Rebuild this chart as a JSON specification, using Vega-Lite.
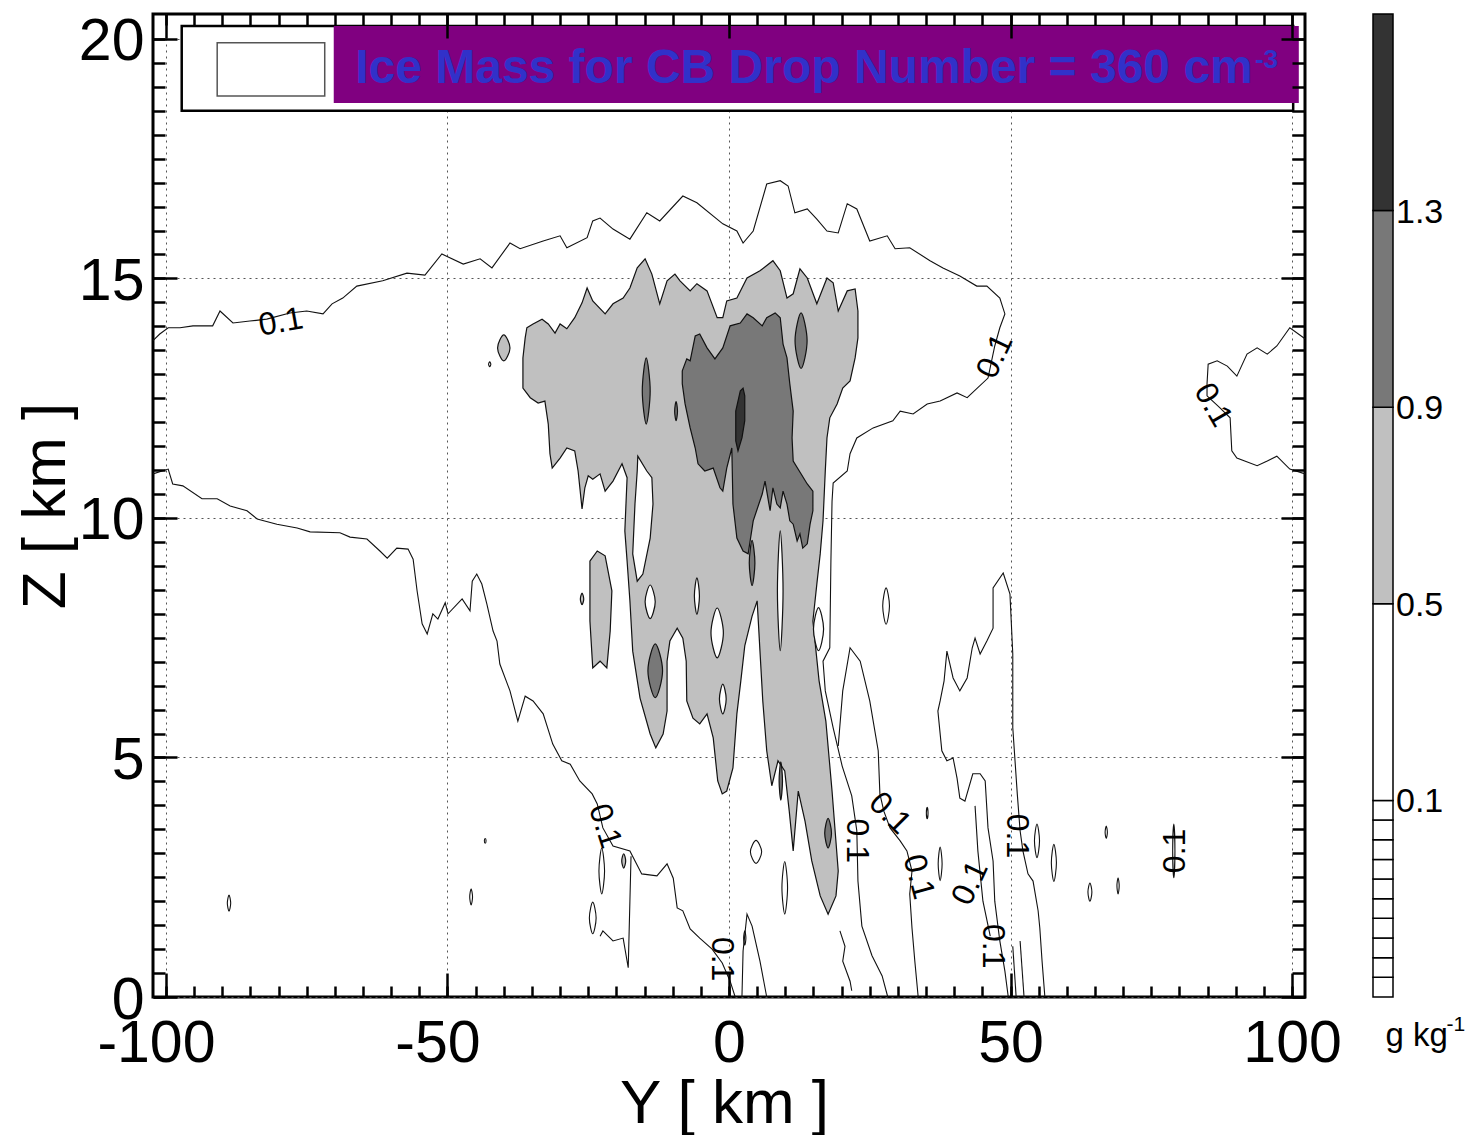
{
"$schema": "https://vega.github.io/schema/vega-lite/v6.json",
"background": "white",
"padding": {"left": 12, "top": 11, "right": 5, "bottom": 3},
"config": {"view": {"stroke": null}, "font": "Liberation Sans"},
"datasets": {
"poly": [
{"id":"LG","c":"a","i":1,"x":-35.9,"y":13.97},{"id":"LG","c":"a","i":2,"x":-34.8,"y":14.05},{"id":"LG","c":"a","i":3,"x":-33.2,"y":14.15},{"id":"LG","c":"a","i":4,"x":-32.1,"y":14.05},{"id":"LG","c":"a","i":5,"x":-30.9,"y":13.86},{"id":"LG","c":"a","i":6,"x":-30.0,"y":14.05},{"id":"LG","c":"a","i":7,"x":-28.8,"y":13.95},{"id":"LG","c":"a","i":8,"x":-27.4,"y":14.18},{"id":"LG","c":"a","i":9,"x":-26.1,"y":14.49},{"id":"LG","c":"a","i":10,"x":-25.2,"y":14.80},
{"id":"LG","c":"a","i":11,"x":-24.2,"y":14.53},{"id":"LG","c":"a","i":12,"x":-22.0,"y":14.26},{"id":"LG","c":"a","i":13,"x":-20.6,"y":14.47},{"id":"LG","c":"a","i":14,"x":-18.8,"y":14.59},{"id":"LG","c":"a","i":15,"x":-17.6,"y":14.80},{"id":"LG","c":"a","i":16,"x":-16.3,"y":15.22},{"id":"LG","c":"a","i":17,"x":-14.9,"y":15.41},{"id":"LG","c":"a","i":18,"x":-13.7,"y":15.09},{"id":"LG","c":"a","i":19,"x":-12.3,"y":14.47},{"id":"LG","c":"a","i":20,"x":-11.0,"y":14.95},
{"id":"LG","c":"a","i":21,"x":-9.6,"y":15.09},{"id":"LG","c":"a","i":22,"x":-8.7,"y":14.95},{"id":"LG","c":"a","i":23,"x":-6.9,"y":14.74},{"id":"LG","c":"a","i":24,"x":-5.7,"y":14.89},{"id":"LG","c":"a","i":25,"x":-3.9,"y":14.74},{"id":"LG","c":"a","i":26,"x":-2.1,"y":14.18},{"id":"LG","c":"a","i":27,"x":-1.1,"y":14.18},{"id":"LG","c":"a","i":28,"x":-0.4,"y":14.53},{"id":"LG","c":"a","i":29,"x":1.4,"y":14.59},{"id":"LG","c":"a","i":30,"x":3.2,"y":15.01},
{"id":"LG","c":"a","i":31,"x":5.5,"y":15.16},{"id":"LG","c":"a","i":32,"x":7.8,"y":15.37},{"id":"LG","c":"a","i":33,"x":9.1,"y":15.16},{"id":"LG","c":"a","i":34,"x":10.3,"y":14.59},{"id":"LG","c":"a","i":35,"x":11.4,"y":14.68},{"id":"LG","c":"a","i":36,"x":12.6,"y":15.20},{"id":"LG","c":"a","i":37,"x":13.9,"y":15.01},{"id":"LG","c":"a","i":38,"x":15.6,"y":14.47},{"id":"LG","c":"a","i":39,"x":17.4,"y":15.01},{"id":"LG","c":"a","i":40,"x":18.5,"y":14.91},
{"id":"LG","c":"a","i":41,"x":19.4,"y":14.32},{"id":"LG","c":"a","i":42,"x":21.0,"y":14.74},{"id":"LG","c":"a","i":43,"x":22.4,"y":14.78},{"id":"LG","c":"a","i":44,"x":22.9,"y":14.32},{"id":"LG","c":"a","i":45,"x":22.9,"y":13.76},{"id":"LG","c":"a","i":46,"x":22.4,"y":13.34},{"id":"LG","c":"a","i":47,"x":21.5,"y":12.86},{"id":"LG","c":"a","i":48,"x":20.2,"y":12.71},{"id":"LG","c":"a","i":49,"x":19.2,"y":12.38},{"id":"LG","c":"a","i":50,"x":17.9,"y":12.09},
{"id":"LG","c":"a","i":51,"x":17.4,"y":11.67},{"id":"LG","c":"a","i":52,"x":17.1,"y":10.98},{"id":"LG","c":"a","i":53,"x":16.7,"y":9.94},{"id":"LG","c":"a","i":54,"x":16.2,"y":9.25},{"id":"LG","c":"a","i":55,"x":15.6,"y":8.62},{"id":"LG","c":"a","i":56,"x":14.9,"y":7.85},{"id":"LG","c":"a","i":57,"x":16.0,"y":6.60},{"id":"LG","c":"a","i":58,"x":17.2,"y":5.76},{"id":"LG","c":"a","i":59,"x":18.3,"y":4.30},{"id":"LG","c":"a","i":60,"x":19.4,"y":2.63},
{"id":"LG","c":"a","i":61,"x":19.0,"y":2.11},{"id":"LG","c":"a","i":62,"x":17.6,"y":1.73},{"id":"LG","c":"a","i":63,"x":16.2,"y":2.11},{"id":"LG","c":"a","i":64,"x":14.7,"y":2.84},{"id":"LG","c":"a","i":65,"x":13.5,"y":3.67},{"id":"LG","c":"a","i":66,"x":12.3,"y":4.30},{"id":"LG","c":"a","i":67,"x":11.4,"y":3.05},{"id":"LG","c":"a","i":68,"x":10.7,"y":3.88},{"id":"LG","c":"a","i":69,"x":9.9,"y":4.72},{"id":"LG","c":"a","i":70,"x":8.7,"y":4.93},
{"id":"LG","c":"a","i":71,"x":7.6,"y":4.41},{"id":"LG","c":"a","i":72,"x":6.7,"y":5.14},{"id":"LG","c":"a","i":73,"x":6.0,"y":6.18},{"id":"LG","c":"a","i":74,"x":5.5,"y":7.22},{"id":"LG","c":"a","i":75,"x":5.0,"y":8.27},{"id":"LG","c":"a","i":76,"x":4.1,"y":7.95},{"id":"LG","c":"a","i":77,"x":2.8,"y":7.33},{"id":"LG","c":"a","i":78,"x":2.1,"y":6.60},{"id":"LG","c":"a","i":79,"x":1.4,"y":5.91},{"id":"LG","c":"a","i":80,"x":0.7,"y":4.78},
{"id":"LG","c":"a","i":81,"x":-0.4,"y":4.30},{"id":"LG","c":"a","i":82,"x":-1.2,"y":4.24},{"id":"LG","c":"a","i":83,"x":-2.0,"y":4.51},{"id":"LG","c":"a","i":84,"x":-2.8,"y":5.41},{"id":"LG","c":"a","i":85,"x":-3.9,"y":5.91},{"id":"LG","c":"a","i":86,"x":-5.2,"y":5.70},{"id":"LG","c":"a","i":87,"x":-6.4,"y":5.82},{"id":"LG","c":"a","i":88,"x":-7.5,"y":6.18},{"id":"LG","c":"a","i":89,"x":-7.6,"y":7.01},{"id":"LG","c":"a","i":90,"x":-8.2,"y":7.49},
{"id":"LG","c":"a","i":91,"x":-9.2,"y":7.70},{"id":"LG","c":"a","i":92,"x":-10.5,"y":7.43},{"id":"LG","c":"a","i":93,"x":-11.0,"y":7.01},{"id":"LG","c":"a","i":94,"x":-11.0,"y":5.97},{"id":"LG","c":"a","i":95,"x":-11.7,"y":5.49},{"id":"LG","c":"a","i":96,"x":-13.0,"y":5.20},{"id":"LG","c":"a","i":97,"x":-14.0,"y":5.49},{"id":"LG","c":"a","i":98,"x":-15.8,"y":6.24},{"id":"LG","c":"a","i":99,"x":-17.1,"y":7.22},{"id":"LG","c":"a","i":100,"x":-17.6,"y":8.27},
{"id":"LG","c":"a","i":101,"x":-18.1,"y":9.10},{"id":"LG","c":"a","i":102,"x":-18.5,"y":9.73},{"id":"LG","c":"a","i":103,"x":-18.1,"y":10.84},{"id":"LG","c":"a","i":104,"x":-19.0,"y":11.13},{"id":"LG","c":"a","i":105,"x":-20.6,"y":10.77},{"id":"LG","c":"a","i":106,"x":-22.0,"y":10.56},{"id":"LG","c":"a","i":107,"x":-22.9,"y":10.92},{"id":"LG","c":"a","i":108,"x":-24.2,"y":10.81},{"id":"LG","c":"a","i":109,"x":-25.0,"y":10.88},{"id":"LG","c":"a","i":110,"x":-25.6,"y":10.63},
{"id":"LG","c":"a","i":111,"x":-26.1,"y":10.19},{"id":"LG","c":"a","i":112,"x":-26.8,"y":10.98},{"id":"LG","c":"a","i":113,"x":-27.4,"y":11.40},{"id":"LG","c":"a","i":114,"x":-28.8,"y":11.46},{"id":"LG","c":"a","i":115,"x":-30.0,"y":11.25},{"id":"LG","c":"a","i":116,"x":-31.4,"y":11.04},{"id":"LG","c":"a","i":117,"x":-31.8,"y":11.34},{"id":"LG","c":"a","i":118,"x":-32.1,"y":11.96},{"id":"LG","c":"a","i":119,"x":-32.7,"y":12.44},{"id":"LG","c":"a","i":120,"x":-33.9,"y":12.40},
{"id":"LG","c":"a","i":121,"x":-35.3,"y":12.51},{"id":"LG","c":"a","i":122,"x":-36.6,"y":12.71},{"id":"LG","c":"a","i":123,"x":-36.6,"y":13.34},{"id":"LG","c":"a","i":124,"x":-36.2,"y":13.76},
{"id":"LL2","c":"a","i":1,"x":-24.7,"y":9.10},{"id":"LL2","c":"a","i":2,"x":-23.4,"y":9.31},{"id":"LL2","c":"a","i":3,"x":-22.0,"y":9.21},{"id":"LL2","c":"a","i":4,"x":-20.8,"y":8.48},{"id":"LL2","c":"a","i":5,"x":-21.1,"y":7.64},{"id":"LL2","c":"a","i":6,"x":-21.7,"y":6.87},{"id":"LL2","c":"a","i":7,"x":-22.9,"y":7.01},{"id":"LL2","c":"a","i":8,"x":-24.2,"y":6.87},{"id":"LL2","c":"a","i":9,"x":-24.7,"y":7.85},
{"id":"H1","c":"w","i":1,"x":-16.2,"y":11.29},{"id":"H1","c":"w","i":2,"x":-14.6,"y":10.98},{"id":"H1","c":"w","i":3,"x":-13.7,"y":10.84},{"id":"H1","c":"w","i":4,"x":-13.5,"y":10.29},{"id":"H1","c":"w","i":5,"x":-14.0,"y":9.58},{"id":"H1","c":"w","i":6,"x":-15.3,"y":8.83},{"id":"H1","c":"w","i":7,"x":-16.3,"y":8.68},{"id":"H1","c":"w","i":8,"x":-17.1,"y":9.25},{"id":"H1","c":"w","i":9,"x":-16.7,"y":10.29},{"id":"H1","c":"w","i":10,"x":-16.3,"y":10.98},
{"id":"MG","c":"b","i":1,"x":-8.3,"y":13.07},{"id":"MG","c":"b","i":2,"x":-7.5,"y":13.32},{"id":"MG","c":"b","i":3,"x":-6.9,"y":13.28},{"id":"MG","c":"b","i":4,"x":-6.0,"y":13.80},{"id":"MG","c":"b","i":5,"x":-5.2,"y":13.84},{"id":"MG","c":"b","i":6,"x":-3.9,"y":13.55},{"id":"MG","c":"b","i":7,"x":-2.5,"y":13.32},{"id":"MG","c":"b","i":8,"x":-1.1,"y":13.55},{"id":"MG","c":"b","i":9,"x":0.2,"y":14.01},{"id":"MG","c":"b","i":10,"x":2.0,"y":14.07},
{"id":"MG","c":"b","i":11,"x":3.2,"y":14.26},{"id":"MG","c":"b","i":12,"x":4.3,"y":14.18},{"id":"MG","c":"b","i":13,"x":5.9,"y":14.01},{"id":"MG","c":"b","i":14,"x":6.7,"y":14.18},{"id":"MG","c":"b","i":15,"x":8.2,"y":14.28},{"id":"MG","c":"b","i":16,"x":9.1,"y":14.18},{"id":"MG","c":"b","i":17,"x":9.6,"y":13.63},{"id":"MG","c":"b","i":18,"x":10.3,"y":13.34},{"id":"MG","c":"b","i":19,"x":10.8,"y":12.80},{"id":"MG","c":"b","i":20,"x":11.4,"y":12.23},
{"id":"MG","c":"b","i":21,"x":11.2,"y":11.67},{"id":"MG","c":"b","i":22,"x":11.4,"y":11.19},{"id":"MG","c":"b","i":23,"x":13.9,"y":10.71},{"id":"MG","c":"b","i":24,"x":14.9,"y":10.56},{"id":"MG","c":"b","i":25,"x":14.9,"y":10.15},{"id":"MG","c":"b","i":26,"x":14.4,"y":9.87},{"id":"MG","c":"b","i":27,"x":13.9,"y":9.46},{"id":"MG","c":"b","i":28,"x":13.1,"y":9.37},{"id":"MG","c":"b","i":29,"x":12.6,"y":9.67},{"id":"MG","c":"b","i":30,"x":12.1,"y":9.52},
{"id":"MG","c":"b","i":31,"x":11.4,"y":9.87},{"id":"MG","c":"b","i":32,"x":10.8,"y":9.94},{"id":"MG","c":"b","i":33,"x":10.3,"y":10.29},{"id":"MG","c":"b","i":34,"x":9.6,"y":10.56},{"id":"MG","c":"b","i":35,"x":9.1,"y":10.21},{"id":"MG","c":"b","i":36,"x":8.5,"y":10.29},{"id":"MG","c":"b","i":37,"x":7.8,"y":10.63},{"id":"MG","c":"b","i":38,"x":7.3,"y":10.15},{"id":"MG","c":"b","i":39,"x":6.4,"y":10.77},{"id":"MG","c":"b","i":40,"x":5.9,"y":10.50},
{"id":"MG","c":"b","i":41,"x":4.3,"y":9.94},{"id":"MG","c":"b","i":42,"x":3.4,"y":9.25},{"id":"MG","c":"b","i":43,"x":2.5,"y":9.31},{"id":"MG","c":"b","i":44,"x":1.4,"y":9.58},{"id":"MG","c":"b","i":45,"x":0.7,"y":10.29},{"id":"MG","c":"b","i":46,"x":0.5,"y":11.46},{"id":"MG","c":"b","i":47,"x":-0.4,"y":11.04},{"id":"MG","c":"b","i":48,"x":-1.1,"y":10.56},{"id":"MG","c":"b","i":49,"x":-1.6,"y":10.63},{"id":"MG","c":"b","i":50,"x":-2.8,"y":11.04},
{"id":"MG","c":"b","i":51,"x":-4.3,"y":10.98},{"id":"MG","c":"b","i":52,"x":-5.5,"y":11.13},{"id":"MG","c":"b","i":53,"x":-6.0,"y":11.46},{"id":"MG","c":"b","i":54,"x":-6.9,"y":11.88},{"id":"MG","c":"b","i":55,"x":-7.8,"y":12.38},{"id":"MG","c":"b","i":56,"x":-8.3,"y":12.80},
{"id":"DK","c":"d","i":1,"x":2.0,"y":12.65},{"id":"DK","c":"d","i":2,"x":2.5,"y":12.71},{"id":"DK","c":"d","i":3,"x":2.8,"y":12.55},{"id":"DK","c":"d","i":4,"x":2.8,"y":12.03},{"id":"DK","c":"d","i":5,"x":2.3,"y":11.67},{"id":"DK","c":"d","i":6,"x":1.6,"y":11.40},{"id":"DK","c":"d","i":7,"x":1.2,"y":11.61},{"id":"DK","c":"d","i":8,"x":1.2,"y":12.23}
],
"ov": [
{"id":"OA1","c":"a","i":1,"x":-41.1,"y":13.55},{"id":"OA1","c":"a","i":2,"x":-40.0,"y":13.82},{"id":"OA1","c":"a","i":3,"x":-38.9,"y":13.55},{"id":"OA1","c":"a","i":4,"x":-40.0,"y":13.28},
{"id":"OA2","c":"a","i":1,"x":-26.4,"y":8.31},{"id":"OA2","c":"a","i":2,"x":-26.1,"y":8.43},{"id":"OA2","c":"a","i":3,"x":-25.8,"y":8.31},{"id":"OA2","c":"a","i":4,"x":-26.1,"y":8.19},
{"id":"OA3","c":"a","i":1,"x":-19.05,"y":2.84},{"id":"OA3","c":"a","i":2,"x":-18.7,"y":2.99},{"id":"OA3","c":"a","i":3,"x":-18.35,"y":2.84},{"id":"OA3","c":"a","i":4,"x":-18.7,"y":2.69},
{"id":"H2","c":"w","i":1,"x":8.0,"y":12.65},{"id":"H2","c":"w","i":2,"x":8.9,"y":13.13},{"id":"H2","c":"w","i":3,"x":9.8,"y":12.65},{"id":"H2","c":"w","i":4,"x":8.9,"y":12.17},
{"id":"H3","c":"w","i":1,"x":8.6,"y":8.48},{"id":"H3","c":"w","i":2,"x":9.1,"y":9.73},{"id":"H3","c":"w","i":3,"x":9.6,"y":8.48},{"id":"H3","c":"w","i":4,"x":9.1,"y":7.23},
{"id":"H4","c":"w","i":1,"x":-6.15,"y":8.37},{"id":"H4","c":"w","i":2,"x":-5.7,"y":8.75},{"id":"H4","c":"w","i":3,"x":-5.25,"y":8.37},{"id":"H4","c":"w","i":4,"x":-5.7,"y":7.99},
{"id":"H5","c":"w","i":1,"x":-14.9,"y":8.25},{"id":"H5","c":"w","i":2,"x":-14.0,"y":8.60},{"id":"H5","c":"w","i":3,"x":-13.1,"y":8.25},{"id":"H5","c":"w","i":4,"x":-14.0,"y":7.90},
{"id":"H6","c":"w","i":1,"x":-3.2,"y":7.60},{"id":"H6","c":"w","i":2,"x":-2.1,"y":8.12},{"id":"H6","c":"w","i":3,"x":-1.0,"y":7.60},{"id":"H6","c":"w","i":4,"x":-2.1,"y":7.08},
{"id":"H6b","c":"w","i":1,"x":-1.7,"y":6.22},{"id":"H6b","c":"w","i":2,"x":-1.1,"y":6.53},{"id":"H6b","c":"w","i":3,"x":-0.5,"y":6.22},{"id":"H6b","c":"w","i":4,"x":-1.1,"y":5.91},
{"id":"H7","c":"w","i":1,"x":15.0,"y":7.68},{"id":"H7","c":"w","i":2,"x":15.9,"y":8.13},{"id":"H7","c":"w","i":3,"x":16.8,"y":7.68},{"id":"H7","c":"w","i":4,"x":15.9,"y":7.23},
{"id":"M1","c":"b","i":1,"x":11.73,"y":13.70},{"id":"M1","c":"b","i":2,"x":12.8,"y":14.28},{"id":"M1","c":"b","i":3,"x":13.87,"y":13.70},{"id":"M1","c":"b","i":4,"x":12.8,"y":13.12},
{"id":"M2","c":"b","i":1,"x":-15.4,"y":12.65},{"id":"M2","c":"b","i":2,"x":-14.7,"y":13.34},{"id":"M2","c":"b","i":3,"x":-14.0,"y":12.65},{"id":"M2","c":"b","i":4,"x":-14.7,"y":11.96},
{"id":"M3","c":"b","i":1,"x":-9.65,"y":12.23},{"id":"M3","c":"b","i":2,"x":-9.4,"y":12.43},{"id":"M3","c":"b","i":3,"x":-9.15,"y":12.23},{"id":"M3","c":"b","i":4,"x":-9.4,"y":12.03},
{"id":"M4","c":"b","i":1,"x":3.6,"y":9.06},{"id":"M4","c":"b","i":2,"x":4.1,"y":9.53},{"id":"M4","c":"b","i":3,"x":4.6,"y":9.06},{"id":"M4","c":"b","i":4,"x":4.1,"y":8.59},
{"id":"M5","c":"b","i":1,"x":-14.4,"y":6.81},{"id":"M5","c":"b","i":2,"x":-13.1,"y":7.37},{"id":"M5","c":"b","i":3,"x":-11.8,"y":6.81},{"id":"M5","c":"b","i":4,"x":-13.1,"y":6.25},
{"id":"M6","c":"b","i":1,"x":17.0,"y":3.42},{"id":"M6","c":"b","i":2,"x":17.6,"y":3.73},{"id":"M6","c":"b","i":3,"x":18.2,"y":3.42},{"id":"M6","c":"b","i":4,"x":17.6,"y":3.11},
{"id":"M7","c":"b","i":1,"x":8.9,"y":4.51},{"id":"M7","c":"b","i":2,"x":9.2,"y":4.91},{"id":"M7","c":"b","i":3,"x":9.5,"y":4.51},{"id":"M7","c":"b","i":4,"x":9.2,"y":4.11},
{"id":"N1","c":"n","i":1,"x":-23.1,"y":2.63},{"id":"N1","c":"n","i":2,"x":-22.6,"y":3.11},{"id":"N1","c":"n","i":3,"x":-22.1,"y":2.63},{"id":"N1","c":"n","i":4,"x":-22.6,"y":2.15},
{"id":"N2","c":"n","i":1,"x":-24.8,"y":1.65},{"id":"N2","c":"n","i":2,"x":-24.2,"y":1.98},{"id":"N2","c":"n","i":3,"x":-23.6,"y":1.65},{"id":"N2","c":"n","i":4,"x":-24.2,"y":1.32},
{"id":"N3","c":"n","i":1,"x":2.6,"y":1.23},{"id":"N3","c":"n","i":2,"x":2.8,"y":1.38},{"id":"N3","c":"n","i":3,"x":3.0,"y":1.23},{"id":"N3","c":"n","i":4,"x":2.8,"y":1.08},
{"id":"N4","c":"n","i":1,"x":3.8,"y":3.03},{"id":"N4","c":"n","i":2,"x":4.8,"y":3.27},{"id":"N4","c":"n","i":3,"x":5.8,"y":3.03},{"id":"N4","c":"n","i":4,"x":4.8,"y":2.79},
{"id":"N5","c":"n","i":1,"x":9.4,"y":2.28},{"id":"N5","c":"n","i":2,"x":9.9,"y":2.83},{"id":"N5","c":"n","i":3,"x":10.4,"y":2.28},{"id":"N5","c":"n","i":4,"x":9.9,"y":1.73},
{"id":"N6","c":"n","i":1,"x":27.3,"y":8.16},{"id":"N6","c":"n","i":2,"x":27.9,"y":8.54},{"id":"N6","c":"n","i":3,"x":28.5,"y":8.16},{"id":"N6","c":"n","i":4,"x":27.9,"y":7.78},
{"id":"N7","c":"n","i":1,"x":37.15,"y":2.78},{"id":"N7","c":"n","i":2,"x":37.5,"y":3.13},{"id":"N7","c":"n","i":3,"x":37.85,"y":2.78},{"id":"N7","c":"n","i":4,"x":37.5,"y":2.43},
{"id":"N8","c":"n","i":1,"x":35.05,"y":3.84},{"id":"N8","c":"n","i":2,"x":35.2,"y":3.96},{"id":"N8","c":"n","i":3,"x":35.35,"y":3.84},{"id":"N8","c":"n","i":4,"x":35.2,"y":3.72},
{"id":"N9","c":"n","i":1,"x":54.25,"y":3.26},{"id":"N9","c":"n","i":2,"x":54.7,"y":3.61},{"id":"N9","c":"n","i":3,"x":55.15,"y":3.26},{"id":"N9","c":"n","i":4,"x":54.7,"y":2.91},
{"id":"N10","c":"n","i":1,"x":57.25,"y":2.80},{"id":"N10","c":"n","i":2,"x":57.7,"y":3.19},{"id":"N10","c":"n","i":3,"x":58.15,"y":2.80},{"id":"N10","c":"n","i":4,"x":57.7,"y":2.41},
{"id":"N11","c":"n","i":1,"x":63.75,"y":2.19},{"id":"N11","c":"n","i":2,"x":64.1,"y":2.38},{"id":"N11","c":"n","i":3,"x":64.45,"y":2.19},{"id":"N11","c":"n","i":4,"x":64.1,"y":2.00},
{"id":"N12","c":"n","i":1,"x":66.8,"y":3.44},{"id":"N12","c":"n","i":2,"x":67.0,"y":3.57},{"id":"N12","c":"n","i":3,"x":67.2,"y":3.44},{"id":"N12","c":"n","i":4,"x":67.0,"y":3.31},
{"id":"N13","c":"n","i":1,"x":68.9,"y":2.32},{"id":"N13","c":"n","i":2,"x":69.1,"y":2.49},{"id":"N13","c":"n","i":3,"x":69.3,"y":2.32},{"id":"N13","c":"n","i":4,"x":69.1,"y":2.15},
{"id":"N14","c":"n","i":1,"x":78.8,"y":3.05},{"id":"N14","c":"n","i":2,"x":79.0,"y":3.61},{"id":"N14","c":"n","i":3,"x":79.2,"y":3.05},{"id":"N14","c":"n","i":4,"x":79.0,"y":2.49},
{"id":"N15","c":"n","i":1,"x":-89.1,"y":1.96},{"id":"N15","c":"n","i":2,"x":-88.8,"y":2.13},{"id":"N15","c":"n","i":3,"x":-88.5,"y":1.96},{"id":"N15","c":"n","i":4,"x":-88.8,"y":1.79},
{"id":"N16","c":"n","i":1,"x":-46.05,"y":2.09},{"id":"N16","c":"n","i":2,"x":-45.8,"y":2.26},{"id":"N16","c":"n","i":3,"x":-45.55,"y":2.09},{"id":"N16","c":"n","i":4,"x":-45.8,"y":1.92},
{"id":"N17","c":"n","i":1,"x":-43.45,"y":3.26},{"id":"N17","c":"n","i":2,"x":-43.3,"y":3.31},{"id":"N17","c":"n","i":3,"x":-43.15,"y":3.26},{"id":"N17","c":"n","i":4,"x":-43.3,"y":3.21},
{"id":"N18","c":"n","i":1,"x":-42.7,"y":13.21},{"id":"N18","c":"n","i":2,"x":-42.5,"y":13.26},{"id":"N18","c":"n","i":3,"x":-42.3,"y":13.21},{"id":"N18","c":"n","i":4,"x":-42.5,"y":13.16}
],
"ln": [
{"id":"U","i":1,"x":-102.3,"y":13.70},{"id":"U","i":2,"x":-101.1,"y":13.84},{"id":"U","i":3,"x":-99.6,"y":13.97},{"id":"U","i":4,"x":-97.5,"y":13.97},{"id":"U","i":5,"x":-95.2,"y":14.01},{"id":"U","i":6,"x":-91.7,"y":14.01},{"id":"U","i":7,"x":-90.4,"y":14.32},{"id":"U","i":8,"x":-88.1,"y":14.07},{"id":"U","i":9,"x":-85.1,"y":14.11},{"id":"U","i":10,"x":-82.1,"y":14.15},
{"id":"U","i":11,"x":-78.0,"y":14.28},{"id":"U","i":12,"x":-75.0,"y":14.32},{"id":"U","i":13,"x":-72.1,"y":14.26},{"id":"U","i":14,"x":-70.5,"y":14.47},{"id":"U","i":15,"x":-68.6,"y":14.59},{"id":"U","i":16,"x":-66.1,"y":14.84},{"id":"U","i":17,"x":-61.5,"y":14.95},{"id":"U","i":18,"x":-57.2,"y":15.11},{"id":"U","i":19,"x":-54.0,"y":15.07},{"id":"U","i":20,"x":-51.0,"y":15.51},
{"id":"U","i":21,"x":-47.2,"y":15.30},{"id":"U","i":22,"x":-44.2,"y":15.41},{"id":"U","i":23,"x":-42.1,"y":15.22},{"id":"U","i":24,"x":-38.9,"y":15.74},{"id":"U","i":25,"x":-37.1,"y":15.62},{"id":"U","i":26,"x":-33.0,"y":15.78},{"id":"U","i":27,"x":-30.0,"y":15.89},{"id":"U","i":28,"x":-28.8,"y":15.64},{"id":"U","i":29,"x":-25.2,"y":15.85},{"id":"U","i":30,"x":-24.2,"y":16.20},
{"id":"U","i":31,"x":-22.9,"y":16.26},{"id":"U","i":32,"x":-20.6,"y":16.03},{"id":"U","i":33,"x":-17.6,"y":15.82},{"id":"U","i":34,"x":-14.6,"y":16.37},{"id":"U","i":35,"x":-12.3,"y":16.20},{"id":"U","i":36,"x":-8.2,"y":16.72},{"id":"U","i":37,"x":-5.7,"y":16.58},{"id":"U","i":38,"x":-1.1,"y":16.14},{"id":"U","i":39,"x":1.4,"y":15.99},{"id":"U","i":40,"x":2.5,"y":15.74},
{"id":"U","i":41,"x":4.3,"y":15.99},{"id":"U","i":42,"x":6.7,"y":16.97},{"id":"U","i":43,"x":9.1,"y":17.04},{"id":"U","i":44,"x":10.5,"y":16.93},{"id":"U","i":45,"x":11.7,"y":16.37},{"id":"U","i":46,"x":13.9,"y":16.45},{"id":"U","i":47,"x":15.6,"y":16.24},{"id":"U","i":48,"x":17.4,"y":15.99},{"id":"U","i":49,"x":19.4,"y":15.95},{"id":"U","i":50,"x":21.0,"y":16.56},
{"id":"U","i":51,"x":22.7,"y":16.45},{"id":"U","i":52,"x":25.0,"y":15.78},{"id":"U","i":53,"x":28.1,"y":15.89},{"id":"U","i":54,"x":29.5,"y":15.62},{"id":"U","i":55,"x":32.1,"y":15.64},{"id":"U","i":56,"x":35.7,"y":15.37},{"id":"U","i":57,"x":38.0,"y":15.22},{"id":"U","i":58,"x":41.0,"y":15.05},{"id":"U","i":59,"x":44.0,"y":14.84},{"id":"U","i":60,"x":45.8,"y":14.84},
{"id":"U","i":61,"x":48.1,"y":14.59},{"id":"U","i":62,"x":49.0,"y":14.26},{"id":"U","i":63,"x":48.1,"y":13.97},{"id":"U","i":64,"x":47.2,"y":13.59},{"id":"U","i":65,"x":46.0,"y":12.92},{"id":"U","i":66,"x":42.3,"y":12.51},{"id":"U","i":67,"x":40.5,"y":12.61},{"id":"U","i":68,"x":37.5,"y":12.44},{"id":"U","i":69,"x":35.2,"y":12.38},{"id":"U","i":70,"x":32.7,"y":12.17},
{"id":"U","i":71,"x":30.4,"y":12.23},{"id":"U","i":72,"x":29.1,"y":12.03},{"id":"U","i":73,"x":25.6,"y":11.88},{"id":"U","i":74,"x":22.7,"y":11.67},{"id":"U","i":75,"x":21.5,"y":11.34},{"id":"U","i":76,"x":21.0,"y":10.98},{"id":"U","i":77,"x":18.5,"y":10.73},{"id":"U","i":78,"x":18.3,"y":10.35},{"id":"U","i":79,"x":18.1,"y":9.10},{"id":"U","i":80,"x":17.9,"y":7.29},
{"id":"U","i":81,"x":16.7,"y":7.01},{"id":"U","i":82,"x":17.1,"y":6.39},{"id":"U","i":83,"x":18.5,"y":5.62},{"id":"U","i":84,"x":20.1,"y":4.82},{"id":"U","i":85,"x":21.8,"y":4.20},{"id":"U","i":86,"x":22.7,"y":3.47},{"id":"U","i":87,"x":22.9,"y":2.42},{"id":"U","i":88,"x":23.6,"y":1.48},{"id":"U","i":89,"x":25.4,"y":0.86},{"id":"U","i":90,"x":27.2,"y":0.44},{"id":"U","i":91,"x":28.2,"y":0.0},
{"id":"LL","i":1,"x":-102.3,"y":10.92},{"id":"LL","i":2,"x":-99.6,"y":11.02},{"id":"LL","i":3,"x":-98.8,"y":10.71},{"id":"LL","i":4,"x":-97.0,"y":10.67},{"id":"LL","i":5,"x":-93.6,"y":10.40},{"id":"LL","i":6,"x":-90.9,"y":10.40},{"id":"LL","i":7,"x":-88.6,"y":10.25},{"id":"LL","i":8,"x":-85.6,"y":10.15},{"id":"LL","i":9,"x":-83.8,"y":9.98},{"id":"LL","i":10,"x":-80.3,"y":9.87},
{"id":"LL","i":11,"x":-76.7,"y":9.79},{"id":"LL","i":12,"x":-74.4,"y":9.71},{"id":"LL","i":13,"x":-69.1,"y":9.69},{"id":"LL","i":14,"x":-67.3,"y":9.60},{"id":"LL","i":15,"x":-64.3,"y":9.56},{"id":"LL","i":16,"x":-62.0,"y":9.31},{"id":"LL","i":17,"x":-60.7,"y":9.16},{"id":"LL","i":18,"x":-59.0,"y":9.37},{"id":"LL","i":19,"x":-57.0,"y":9.35},{"id":"LL","i":20,"x":-56.1,"y":9.14},
{"id":"LL","i":21,"x":-55.4,"y":8.48},{"id":"LL","i":22,"x":-54.5,"y":7.79},{"id":"LL","i":23,"x":-53.6,"y":7.58},{"id":"LL","i":24,"x":-52.6,"y":8.00},{"id":"LL","i":25,"x":-51.7,"y":7.89},{"id":"LL","i":26,"x":-50.4,"y":8.23},{"id":"LL","i":27,"x":-49.9,"y":8.00},{"id":"LL","i":28,"x":-47.4,"y":8.31},{"id":"LL","i":29,"x":-46.0,"y":8.06},{"id":"LL","i":30,"x":-45.6,"y":8.68},
{"id":"LL","i":31,"x":-44.8,"y":8.83},{"id":"LL","i":32,"x":-43.9,"y":8.62},{"id":"LL","i":33,"x":-43.0,"y":8.20},{"id":"LL","i":34,"x":-41.9,"y":7.64},{"id":"LL","i":35,"x":-41.2,"y":7.43},{"id":"LL","i":36,"x":-40.7,"y":6.95},{"id":"LL","i":37,"x":-38.9,"y":6.39},{"id":"LL","i":38,"x":-37.5,"y":5.76},{"id":"LL","i":39,"x":-36.2,"y":6.28},{"id":"LL","i":40,"x":-34.8,"y":6.18},
{"id":"LL","i":41,"x":-33.0,"y":5.91},{"id":"LL","i":42,"x":-31.3,"y":5.28},{"id":"LL","i":43,"x":-29.7,"y":4.93},{"id":"LL","i":44,"x":-28.2,"y":4.86},{"id":"LL","i":45,"x":-26.5,"y":4.51},{"id":"LL","i":46,"x":-24.3,"y":4.24},{"id":"LL","i":47,"x":-23.4,"y":4.03},{"id":"LL","i":48,"x":-22.4,"y":3.53},{"id":"LL","i":49,"x":-20.6,"y":3.15},{"id":"LL","i":50,"x":-17.6,"y":3.05},
{"id":"LL","i":51,"x":-15.5,"y":2.57},{"id":"LL","i":52,"x":-12.8,"y":2.53},{"id":"LL","i":53,"x":-11.0,"y":2.78},{"id":"LL","i":54,"x":-9.9,"y":2.48},{"id":"LL","i":55,"x":-9.2,"y":1.86},{"id":"LL","i":56,"x":-8.2,"y":1.80},{"id":"LL","i":57,"x":-6.9,"y":1.42},{"id":"LL","i":58,"x":-5.2,"y":1.23},{"id":"LL","i":59,"x":-3.0,"y":1.00},{"id":"LL","i":60,"x":-1.2,"y":0.71},
{"id":"LL","i":61,"x":0.2,"y":0.33},{"id":"LL","i":62,"x":1.1,"y":0.0},
{"id":"E","i":1,"x":-17.4,"y":2.94},{"id":"E","i":2,"x":-17.6,"y":2.00},{"id":"E","i":3,"x":-17.9,"y":0.61},{"id":"E","i":4,"x":-18.8,"y":1.23},{"id":"E","i":5,"x":-20.6,"y":1.17},{"id":"E","i":6,"x":-22.4,"y":1.38},{"id":"E","i":7,"x":-22.9,"y":1.27},
{"id":"AR","i":1,"x":2.3,"y":0},{"id":"AR","i":2,"x":2.5,"y":0.96},{"id":"AR","i":3,"x":3.2,"y":1.73},{"id":"AR","i":4,"x":4.1,"y":1.48},{"id":"AR","i":5,"x":5.5,"y":0.75},{"id":"AR","i":6,"x":6.7,"y":0},
{"id":"Z1","i":1,"x":19.7,"y":1.38},{"id":"Z1","i":2,"x":20.6,"y":1.06},{"id":"Z1","i":3,"x":20.2,"y":0.75},{"id":"Z1","i":4,"x":21.5,"y":0.33},{"id":"Z1","i":5,"x":21.8,"y":0.13},
{"id":"PB","i":1,"x":19.4,"y":5.24},{"id":"PB","i":2,"x":20.2,"y":6.39},{"id":"PB","i":3,"x":21.5,"y":7.29},{"id":"PB","i":4,"x":23.3,"y":7.01},{"id":"PB","i":5,"x":25.0,"y":6.18},{"id":"PB","i":6,"x":26.5,"y":5.14},{"id":"PB","i":7,"x":26.8,"y":4.24},{"id":"PB","i":8,"x":27.5,"y":3.88},{"id":"PB","i":9,"x":28.6,"y":3.53},{"id":"PB","i":10,"x":30.4,"y":3.26},
{"id":"PB","i":11,"x":31.6,"y":3.05},{"id":"PB","i":12,"x":32.5,"y":2.63},{"id":"PB","i":13,"x":32.1,"y":2.15},{"id":"PB","i":14,"x":32.5,"y":1.44},{"id":"PB","i":15,"x":33.0,"y":0.75},{"id":"PB","i":16,"x":33.6,"y":0},
{"id":"PC","i":1,"x":49.6,"y":0},{"id":"PC","i":2,"x":49.0,"y":0.54},{"id":"PC","i":3,"x":48.1,"y":1.17},{"id":"PC","i":4,"x":47.2,"y":2.00},{"id":"PC","i":5,"x":46.9,"y":2.84},{"id":"PC","i":6,"x":46.0,"y":3.53},{"id":"PC","i":7,"x":45.5,"y":4.51},{"id":"PC","i":8,"x":44.6,"y":4.66},{"id":"PC","i":9,"x":43.3,"y":4.66},{"id":"PC","i":10,"x":41.9,"y":4.09},
{"id":"PC","i":11,"x":41.0,"y":4.15},{"id":"PC","i":12,"x":40.5,"y":4.57},{"id":"PC","i":13,"x":39.8,"y":4.99},{"id":"PC","i":14,"x":38.7,"y":4.93},{"id":"PC","i":15,"x":37.8,"y":5.14},{"id":"PC","i":16,"x":37.1,"y":5.97},{"id":"PC","i":17,"x":37.5,"y":6.18},{"id":"PC","i":18,"x":38.2,"y":6.60},{"id":"PC","i":19,"x":38.7,"y":7.22},{"id":"PC","i":20,"x":39.8,"y":6.66},
{"id":"PC","i":21,"x":41.0,"y":6.39},{"id":"PC","i":22,"x":42.3,"y":6.66},{"id":"PC","i":23,"x":43.2,"y":7.29},{"id":"PC","i":24,"x":43.7,"y":7.49},{"id":"PC","i":25,"x":44.6,"y":7.16},{"id":"PC","i":26,"x":45.8,"y":7.43},{"id":"PC","i":27,"x":46.9,"y":7.70},{"id":"PC","i":28,"x":46.9,"y":8.54},{"id":"PC","i":29,"x":48.7,"y":8.85},{"id":"PC","i":30,"x":49.9,"y":8.41},
{"id":"PC","i":31,"x":50.4,"y":7.16},{"id":"PC","i":32,"x":50.4,"y":5.62},{"id":"PC","i":33,"x":51.2,"y":4.24},{"id":"PC","i":34,"x":51.7,"y":3.47},{"id":"PC","i":35,"x":52.2,"y":3.05},{"id":"PC","i":36,"x":53.1,"y":2.57},{"id":"PC","i":37,"x":54.0,"y":2.42},{"id":"PC","i":38,"x":54.9,"y":1.80},{"id":"PC","i":39,"x":55.2,"y":1.44},{"id":"PC","i":40,"x":55.6,"y":0.75},
{"id":"PC","i":41,"x":56.1,"y":0},
{"id":"P1","i":1,"x":50.4,"y":1.06},{"id":"P1","i":2,"x":51.0,"y":0},
{"id":"P2","i":1,"x":51.7,"y":1.17},{"id":"P2","i":2,"x":52.4,"y":0},
{"id":"P3","i":1,"x":43.7,"y":3.99},{"id":"P3","i":2,"x":44.2,"y":3.05},{"id":"P3","i":3,"x":45.1,"y":2.00},{"id":"P3","i":4,"x":46.4,"y":1.27},
{"id":"R","i":1,"x":102.3,"y":13.74},{"id":"R","i":2,"x":99.6,"y":13.97},{"id":"R","i":3,"x":97.3,"y":13.59},{"id":"R","i":4,"x":95.6,"y":13.42},{"id":"R","i":5,"x":93.8,"y":13.55},{"id":"R","i":6,"x":92.0,"y":13.42},{"id":"R","i":7,"x":90.2,"y":12.96},{"id":"R","i":8,"x":88.5,"y":13.17},{"id":"R","i":9,"x":86.7,"y":13.28},{"id":"R","i":10,"x":85.1,"y":13.21},
{"id":"R","i":11,"x":84.9,"y":12.80},{"id":"R","i":12,"x":84.9,"y":12.55},{"id":"R","i":13,"x":87.2,"y":12.30},{"id":"R","i":14,"x":89.0,"y":12.09},{"id":"R","i":15,"x":89.3,"y":11.40},{"id":"R","i":16,"x":90.2,"y":11.25},{"id":"R","i":17,"x":93.8,"y":11.09},{"id":"R","i":18,"x":95.6,"y":11.19},{"id":"R","i":19,"x":97.3,"y":11.29},{"id":"R","i":20,"x":99.6,"y":11.02},
{"id":"R","i":21,"x":102.3,"y":10.92}
],
"cbar": [
{"lo":0,"hi":1,"band":"<0.5"},{"lo":1,"hi":2,"band":"<0.5"},{"lo":2,"hi":3,"band":"<0.5"},{"lo":3,"hi":4,"band":"<0.5"},{"lo":4,"hi":5,"band":"<0.5"},{"lo":5,"hi":6,"band":"<0.5"},{"lo":6,"hi":7,"band":"<0.5"},{"lo":7,"hi":8,"band":"<0.5"},{"lo":8,"hi":9,"band":"<0.5"},{"lo":9,"hi":10,"band":"<0.5"},
{"lo":10,"hi":20,"band":"<0.5"},{"lo":20,"hi":30,"band":"0.5-0.9"},{"lo":30,"hi":40,"band":"0.9-1.3"},{"lo":40,"hi":50,"band":">1.3"}
],
"cbl": [
{"p":10,"t":"0.1"},{"p":20,"t":"0.5"},{"p":30,"t":"0.9"},{"p":40,"t":"1.3"}
]
},
"spacing": 68,
"bounds": "flush",
"hconcat": [
{
"width": 1152,
"height": 983,
"view": {"stroke": "black", "strokeWidth": 3},
"encoding": {
 "x": {"field": "x", "type": "quantitative", "scale": {"domain": [-102.3, 102.3], "nice": false, "zero": false}, "axis": null},
 "y": {"field": "y", "type": "quantitative", "scale": {"domain": [0, 20.52], "nice": false, "zero": false}, "axis": null}
},
"resolve": {"axis": {"x": "independent", "y": "independent"}},
"layer": [
{
 "data": {"name": "poly"},
 "transform": [{"filter": "datum.c === 'a'"}],
 "mark": {"type": "line", "interpolate": "linear-closed", "fill": "#c0c0c0", "stroke": "#111111", "strokeWidth": 1.2},
 "encoding": {
  "x": {"field": "x", "type": "quantitative", "scale": {"domain": [-102.3, 102.3], "nice": false, "zero": false},
   "axis": {"orient": "bottom", "values": [-100, -50, 0, 50, 100], "ticks": false, "domain": false, "grid": true, "gridColor": "#555555", "gridDash": [2, 4], "gridWidth": 1,
    "labelExpr": "datum.value < 0 ? '-' + abs(datum.value) : datum.label",
    "labelOffset": {"condition": {"test": "datum.value < 0", "value": -10}, "value": 0},
    "labelFont": "Liberation Sans", "labelFontSize": 59, "labelColor": "black", "labelPadding": 17, "labelOverlap": false, "labelFlush": false, "labelBound": false,
    "title": "Y [ km ]", "titleFont": "Liberation Sans", "titleFontSize": 62, "titleFontWeight": "normal", "titleColor": "black",
    "titleBaseline": "alphabetic", "titleAlign": "center", "titleX": 571, "titleY": 125}},
  "y": {"field": "y", "type": "quantitative", "scale": {"domain": [0, 20.52], "nice": false, "zero": false},
   "axis": {"orient": "left", "values": [0, 5, 10, 15, 20], "ticks": false, "domain": false, "grid": true, "gridColor": "#555555", "gridDash": [2, 4], "gridWidth": 1,
    "labelFont": "Liberation Sans", "labelFontSize": 59, "labelColor": "black", "labelPadding": 9, "labelOffset": 3, "labelOverlap": false, "labelFlush": false, "labelBound": false,
    "title": "Z [ km ]", "titleFont": "Liberation Sans", "titleFontSize": 62, "titleFontWeight": "normal", "titleColor": "black",
    "titleBaseline": "alphabetic", "titleX": -89}},
  "detail": {"field": "id"},
  "order": {"field": "i", "type": "quantitative"}
 }
},
{
 "data": {"name": "ov"},
 "transform": [{"filter": "datum.c === 'a'"}],
 "mark": {"type": "line", "interpolate": "cardinal-closed", "fill": "#c0c0c0", "stroke": "#111111", "strokeWidth": 1.2},
 "encoding": {
  "x": {"field": "x", "type": "quantitative", "scale": {"domain": [-102.3, 102.3], "nice": false, "zero": false},
   "axis": {"orient": "bottom", "values": [-100,-95,-90,-85,-80,-75,-70,-65,-60,-55,-50,-45,-40,-35,-30,-25,-20,-15,-10,-5,0,5,10,15,20,25,30,35,40,45,50,55,60,65,70,75,80,85,90,95,100], "tickSize": -11, "tickWidth": 2.5, "tickColor": "black", "labels": false, "domain": false, "grid": false, "title": null, "zindex": 1}},
  "y": {"field": "y", "type": "quantitative", "scale": {"domain": [0, 20.52], "nice": false, "zero": false},
   "axis": {"orient": "left", "values": [0,0.5,1,1.5,2,2.5,3,3.5,4,4.5,5,5.5,6,6.5,7,7.5,8,8.5,9,9.5,10,10.5,11,11.5,12,12.5,13,13.5,14,14.5,15,15.5,16,16.5,17,17.5,18,18.5,19,19.5,20], "tickSize": -12, "tickWidth": 2.5, "tickColor": "black", "labels": false, "domain": false, "grid": false, "title": null, "zindex": 1}},
  "detail": {"field": "id"},
  "order": {"field": "i", "type": "quantitative"}
 }
},
{
 "data": {"name": "poly"},
 "transform": [{"filter": "datum.c === 'w'"}],
 "mark": {"type": "line", "interpolate": "linear-closed", "fill": "white", "stroke": "#111111", "strokeWidth": 1.2},
 "encoding": {
  "x": {"field": "x", "type": "quantitative", "scale": {"domain": [-102.3, 102.3], "nice": false, "zero": false},
   "axis": {"orient": "bottom", "values": [-100, -50, 0, 50, 100], "tickSize": -24, "tickWidth": 2.5, "tickColor": "black", "labels": false, "domain": false, "grid": false, "title": null, "zindex": 1}},
  "y": {"field": "y", "type": "quantitative", "scale": {"domain": [0, 20.52], "nice": false, "zero": false},
   "axis": {"orient": "left", "values": [0, 5, 10, 15, 20], "tickSize": -24, "tickWidth": 2.5, "tickColor": "black", "labels": false, "domain": false, "grid": false, "title": null, "zindex": 1}},
  "detail": {"field": "id"},
  "order": {"field": "i", "type": "quantitative"}
 }
},
{
 "data": {"name": "ov"},
 "transform": [{"filter": "datum.c === 'w'"}],
 "mark": {"type": "line", "interpolate": "cardinal-closed", "fill": "white", "stroke": "#111111", "strokeWidth": 1.2},
 "encoding": {
  "x": {"field": "x", "type": "quantitative", "scale": {"domain": [-102.3, 102.3], "nice": false, "zero": false},
   "axis": {"orient": "top", "values": [-100,-95,-90,-85,-80,-75,-70,-65,-60,-55,-50,-45,-40,-35,-30,-25,-20,-15,-10,-5,0,5,10,15,20,25,30,35,40,45,50,55,60,65,70,75,80,85,90,95,100], "tickSize": -11, "tickWidth": 2.5, "tickColor": "black", "labels": false, "domain": false, "grid": false, "title": null, "zindex": 1}},
  "y": {"field": "y", "type": "quantitative", "scale": {"domain": [0, 20.52], "nice": false, "zero": false},
   "axis": {"orient": "right", "values": [0,0.5,1,1.5,2,2.5,3,3.5,4,4.5,5,5.5,6,6.5,7,7.5,8,8.5,9,9.5,10,10.5,11,11.5,12,12.5,13,13.5,14,14.5,15,15.5,16,16.5,17,17.5,18,18.5,19,19.5,20], "tickSize": -13, "tickWidth": 2.5, "tickColor": "black", "labels": false, "domain": false, "grid": false, "title": null, "zindex": 1}},
  "detail": {"field": "id"},
  "order": {"field": "i", "type": "quantitative"}
 }
},
{
 "data": {"name": "poly"},
 "transform": [{"filter": "datum.c === 'b'"}],
 "mark": {"type": "line", "interpolate": "linear-closed", "fill": "#787878", "stroke": "#111111", "strokeWidth": 1.2},
 "encoding": {
  "x": {"field": "x", "type": "quantitative", "scale": {"domain": [-102.3, 102.3], "nice": false, "zero": false},
   "axis": {"orient": "top", "values": [-100, -50, 0, 50, 100], "tickSize": -24, "tickWidth": 2.5, "tickColor": "black", "labels": false, "domain": false, "grid": false, "title": null, "zindex": 1}},
  "y": {"field": "y", "type": "quantitative", "scale": {"domain": [0, 20.52], "nice": false, "zero": false},
   "axis": {"orient": "right", "values": [0, 5, 10, 15, 20], "tickSize": -24, "tickWidth": 2.5, "tickColor": "black", "labels": false, "domain": false, "grid": false, "title": null, "zindex": 1}},
  "detail": {"field": "id"},
  "order": {"field": "i", "type": "quantitative"}
 }
},
{
 "data": {"name": "ov"},
 "transform": [{"filter": "datum.c === 'b'"}],
 "mark": {"type": "line", "interpolate": "cardinal-closed", "fill": "#787878", "stroke": "#111111", "strokeWidth": 1.2},
 "encoding": {"detail": {"field": "id"}, "order": {"field": "i", "type": "quantitative"}}
},
{
 "data": {"name": "poly"},
 "transform": [{"filter": "datum.c === 'd'"}],
 "mark": {"type": "line", "interpolate": "linear-closed", "fill": "#333333", "stroke": "#111111", "strokeWidth": 1.2},
 "encoding": {"detail": {"field": "id"}, "order": {"field": "i", "type": "quantitative"}}
},
{
 "data": {"name": "ln"},
 "mark": {"type": "line", "interpolate": "linear", "stroke": "#111111", "strokeWidth": 1.1},
 "encoding": {"detail": {"field": "id"}, "order": {"field": "i", "type": "quantitative"}}
},
{
 "data": {"name": "ov"},
 "transform": [{"filter": "datum.c === 'n'"}],
 "mark": {"type": "line", "interpolate": "cardinal-closed", "stroke": "#111111", "strokeWidth": 1.1},
 "encoding": {"detail": {"field": "id"}, "order": {"field": "i", "type": "quantitative"}}
},
{"data": {"values": [{"x": -79.6, "y": 14.09, "t": "0.1"}]}, "mark": {"type": "text", "angle": -10, "font": "Liberation Sans", "fontSize": 32, "color": "black", "align": "center", "baseline": "middle"}, "encoding": {"text": {"field": "t"}}},
{"data": {"values": [{"x": 47.2, "y": 13.38, "t": "0.1"}, {"x": 42.8, "y": 2.38, "t": "0.1"}]}, "mark": {"type": "text", "angle": -65, "font": "Liberation Sans", "fontSize": 32, "color": "black", "align": "center", "baseline": "middle"}, "encoding": {"text": {"field": "t"}}},
{"data": {"values": [{"x": 86.0, "y": 12.36, "t": "0.1"}]}, "mark": {"type": "text", "angle": 60, "font": "Liberation Sans", "fontSize": 32, "color": "black", "align": "center", "baseline": "middle"}, "encoding": {"text": {"field": "t"}}},
{"data": {"values": [{"x": -22.0, "y": 3.57, "t": "0.1"}]}, "mark": {"type": "text", "angle": 72, "font": "Liberation Sans", "fontSize": 32, "color": "black", "align": "center", "baseline": "middle"}, "encoding": {"text": {"field": "t"}}},
{"data": {"values": [{"x": -1.2, "y": 0.79, "t": "0.1"}, {"x": 22.7, "y": 3.26, "t": "0.1"}, {"x": 46.9, "y": 1.06, "t": "0.1"}, {"x": 51.2, "y": 3.36, "t": "0.1"}]}, "mark": {"type": "text", "angle": 90, "font": "Liberation Sans", "fontSize": 32, "color": "black", "align": "center", "baseline": "middle"}, "encoding": {"text": {"field": "t"}}},
{"data": {"values": [{"x": 28.6, "y": 3.84, "t": "0.1"}]}, "mark": {"type": "text", "angle": 45, "font": "Liberation Sans", "fontSize": 32, "color": "black", "align": "center", "baseline": "middle"}, "encoding": {"text": {"field": "t"}}},
{"data": {"values": [{"x": 33.7, "y": 2.51, "t": "0.1"}]}, "mark": {"type": "text", "angle": 75, "font": "Liberation Sans", "fontSize": 32, "color": "black", "align": "center", "baseline": "middle"}, "encoding": {"text": {"field": "t"}}},
{"data": {"values": [{"x": 79.2, "y": 3.05, "t": "0.1"}]}, "mark": {"type": "text", "angle": -90, "font": "Liberation Sans", "fontSize": 32, "color": "black", "align": "center", "baseline": "middle"}, "encoding": {"text": {"field": "t"}}},
{"data": {"values": [{"x": -97.2, "x2": 100.2, "y": 20.27, "y2": 18.5}]}, "mark": {"type": "rect", "fill": "white", "stroke": "black", "strokeWidth": 2.5},
 "encoding": {"x2": {"field": "x2"}, "y2": {"field": "y2"}}},
{"data": {"values": [{"x": -90.9, "x2": -71.8, "y": 19.92, "y2": 18.81}]}, "mark": {"type": "rect", "fill": "white", "stroke": "#555555", "strokeWidth": 1.5},
 "encoding": {"x2": {"field": "x2"}, "y2": {"field": "y2"}}},
{"data": {"values": [{"x": -70.2, "x2": 101.2, "y": 20.27, "y2": 18.66}]}, "mark": {"type": "rect", "fill": "#800080", "strokeWidth": 0},
 "encoding": {"x2": {"field": "x2"}, "y2": {"field": "y2"}}},
{"data": {"values": [{"x": -66.4, "y": 19.08, "t": "Ice Mass for CB Drop Number = 360 cm"}]}, "mark": {"type": "text", "align": "left", "baseline": "alphabetic", "font": "Liberation Sans", "fontSize": 48, "fontWeight": "bold", "color": "#3131c9"},
 "encoding": {"text": {"field": "t"}}},
{"data": {"values": [{"x": 93.4, "y": 19.40, "t": "-3"}]}, "mark": {"type": "text", "align": "left", "baseline": "alphabetic", "font": "Liberation Sans", "fontSize": 26, "fontWeight": "bold", "color": "#3131c9"},
 "encoding": {"text": {"field": "t"}}}
]
},
{
"width": 20,
"height": 983,
"layer": [
{
 "data": {"name": "cbar"},
 "mark": {"type": "rect", "stroke": "black", "strokeWidth": 1.5},
 "encoding": {
  "x": {"datum": 0, "type": "quantitative", "scale": {"domain": [0, 1], "nice": false, "zero": false}, "axis": null},
  "x2": {"datum": 1},
  "y": {"field": "lo", "type": "quantitative", "scale": {"domain": [0, 50], "nice": false, "zero": false}, "axis": null},
  "y2": {"field": "hi"},
  "fill": {"field": "band", "type": "nominal", "scale": {"domain": ["<0.5", "0.5-0.9", "0.9-1.3", ">1.3"], "range": ["white", "#c0c0c0", "#787878", "#333333"]}, "legend": null}
 }
},
{
 "data": {"name": "cbl"},
 "mark": {"type": "text", "align": "left", "baseline": "middle", "dx": 3, "dy": 2, "font": "Liberation Sans", "fontSize": 34, "color": "black"},
 "encoding": {
  "x": {"datum": 1, "type": "quantitative"},
  "y": {"field": "p", "type": "quantitative"},
  "text": {"field": "t"}
 }
},
{"data": {"values": [{}]}, "mark": {"type": "text", "text": "g kg", "align": "left", "baseline": "alphabetic", "font": "Liberation Sans", "fontSize": 33, "color": "black"},
 "encoding": {"x": {"datum": 0.62}, "y": {"datum": -2.49}}},
{"data": {"values": [{}]}, "mark": {"type": "text", "text": "-1", "align": "left", "baseline": "alphabetic", "font": "Liberation Sans", "fontSize": 21, "color": "black"},
 "encoding": {"x": {"datum": 3.67}, "y": {"datum": -1.73}}}
]
}
]
}
